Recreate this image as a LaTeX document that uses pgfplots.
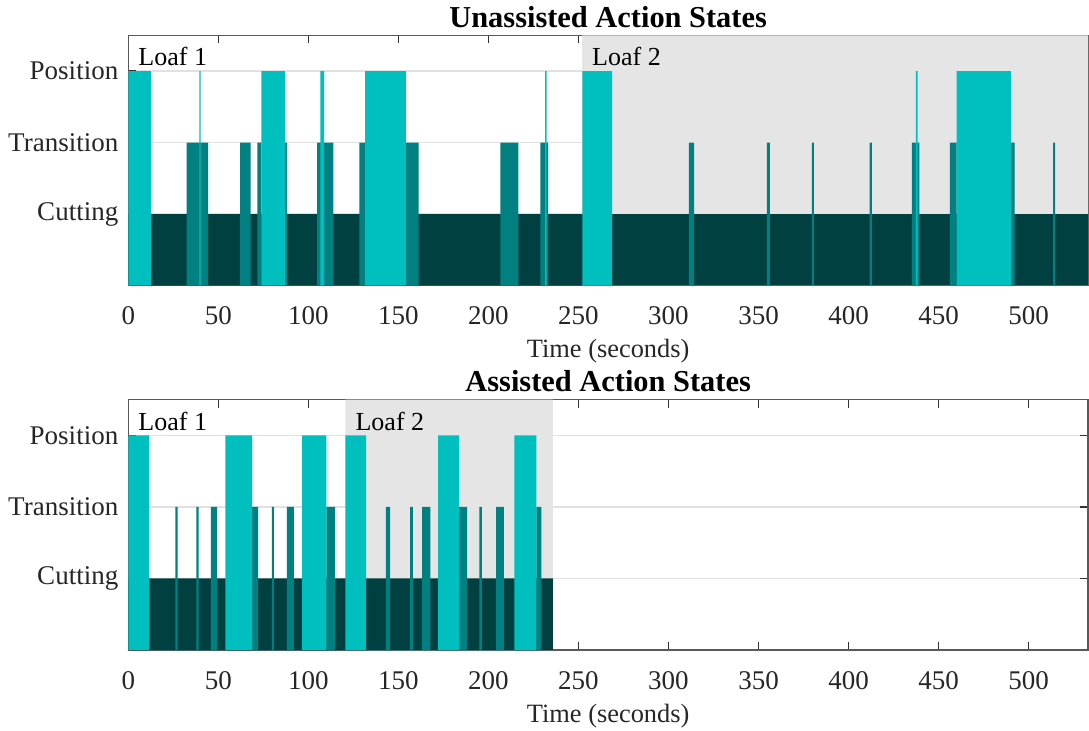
\documentclass[border=0pt]{standalone}
\usepackage{fontspec}
\setmainfont{Liberation Serif}
\usepackage{pgfplots}
\pgfplotsset{compat=1.18}
\definecolor{posc}{RGB}{0,191,191}
\definecolor{trac}{RGB}{0,128,128}
\definecolor{cutc}{RGB}{0,64,64}
\definecolor{loafg}{RGB}{229,229,229}
\definecolor{gridc}{RGB}{225,225,225}
\pgfplotsset{
  layers/mylayers/.define layer set={axis background,axis grid,main,axis ticks,axis lines,axis tick labels,axis descriptions,axis foreground}{},
  mystyle/.style={
    set layers=mylayers,
    scale only axis, width=479.85bp, height=125.2bp,
    xmin=0, xmax=533, ymin=0, ymax=3.5,
    ytick={1,2,3}, yticklabels={Cutting,Transition,Position},
    xtick={0,50,...,500},
    /pgf/number format/assume math mode=true,
    ymajorgrids, grid style={color=gridc, line width=0.7bp},
    tick align=inside, major tick length=4bp,
    tick style={color=black!80, line width=0.6bp},
    axis line style={color=black!65, line width=0.6bp},
    ticklabel style={font=\fontsize{13.5bp}{15bp}\selectfont, text=black!85},
    xticklabel style={yshift=-7bp},
    yticklabel style={xshift=-1.5bp},
    label style={font=\fontsize{13.2bp}{15bp}\selectfont, text=black!85},
    xlabel style={yshift=-0.5bp},
    title style={font=\fontsize{15.2bp}{17bp}\selectfont\bfseries, yshift=-5.5bp},
    xlabel={Time (seconds)},
    clip=true,
  },
}
\begin{document}
\begin{tikzpicture}
% ---------------- Unassisted ----------------
\begin{axis}[mystyle, at={(0,0)}, anchor=south west, title={Unassisted Action States}]
\addplot[fill=loafg, draw=none] coordinates {(252,0) (252,3.5) (533,3.5) (533,0)} \closedcycle;
\addplot[fill=cutc, draw=none] coordinates {(0,0) (0,1) (533,1) (533,0)} \closedcycle;
\addplot[fill=trac, draw=none, const plot mark left] coordinates {
(32.4,2) (44.3,0) (62.1,2) (68.0,0) (71.7,2) (73.9,0) (86.9,2) (88.2,0)
(104.8,2) (113.9,0) (128.3,2) (131.5,0) (154.1,2) (161.3,0) (206.7,2) (216.7,0)
(228.9,2) (233.2,0) (311.3,2) (314.3,0) (354.7,2) (356.3,0) (379.7,2) (380.8,0)
(411.7,2) (413.0,0) (435.2,2) (439.3,0) (456.3,2) (460.0,0) (490.2,2) (492.2,0)
(513.6,2) (514.7,0)} \closedcycle;
\addplot[fill=posc, draw=none, const plot mark left] coordinates {
(0,3) (12.6,0) (39.5,3) (40.1,0) (73.9,3) (86.9,0) (106.7,3) (108.7,0)
(131.5,3) (154.1,0) (231.5,3) (232.3,0) (252.2,3) (268.7,0) (437.4,3) (438.4,0)
(460.0,3) (490.2,0)} \closedcycle;
\node[anchor=base west, inner sep=0pt, font=\fontsize{13bp}{15bp}\selectfont] at (axis cs:5.4,3.075) {Loaf 1};
\node[anchor=base west, inner sep=0pt, font=\fontsize{13bp}{15bp}\selectfont] at (axis cs:257.4,3.075) {Loaf 2};
\end{axis}
% ---------------- Assisted ----------------
\begin{axis}[mystyle, at={(0,-182.15bp)}, anchor=south west, title={Assisted Action States}]
\addplot[fill=loafg, draw=none] coordinates {(120.6,0) (120.6,3.5) (235.8,3.5) (235.8,0)} \closedcycle;
\addplot[fill=cutc, draw=none] coordinates {(0,0) (0,1) (235.8,1) (235.8,0)} \closedcycle;
\addplot[fill=trac, draw=none, const plot mark left] coordinates {
(26.1,2) (27.4,0) (37.8,2) (39.1,0) (45.8,2) (49.3,0) (68.7,2) (72.1,0)
(79.7,2) (80.9,0) (88.0,2) (91.9,0) (110.0,2) (114.8,0) (143.0,2) (145.4,0)
(156.5,2) (158.0,0) (163.2,2) (167.8,0) (183.7,2) (188.2,0) (195.0,2) (196.3,0)
(204.3,2) (208.6,0) (226.7,2) (229.4,0)} \closedcycle;
\addplot[fill=posc, draw=none, const plot mark left] coordinates {
(0,3) (11.7,0) (53.9,3) (68.7,0) (96.5,3) (110.0,0) (120.6,3) (132.1,0)
(172.0,3) (183.7,0) (214.4,3) (226.7,0)} \closedcycle;
\node[anchor=base west, inner sep=0pt, font=\fontsize{13bp}{15bp}\selectfont] at (axis cs:5.4,3.075) {Loaf 1};
\node[anchor=base west, inner sep=0pt, font=\fontsize{13bp}{15bp}\selectfont] at (axis cs:126,3.075) {Loaf 2};
\end{axis}
\pgfresetboundingbox
\useasboundingbox (-64.15bp,-222.65bp) rectangle (480.35bp,142.85bp);
\end{tikzpicture}
\end{document}
